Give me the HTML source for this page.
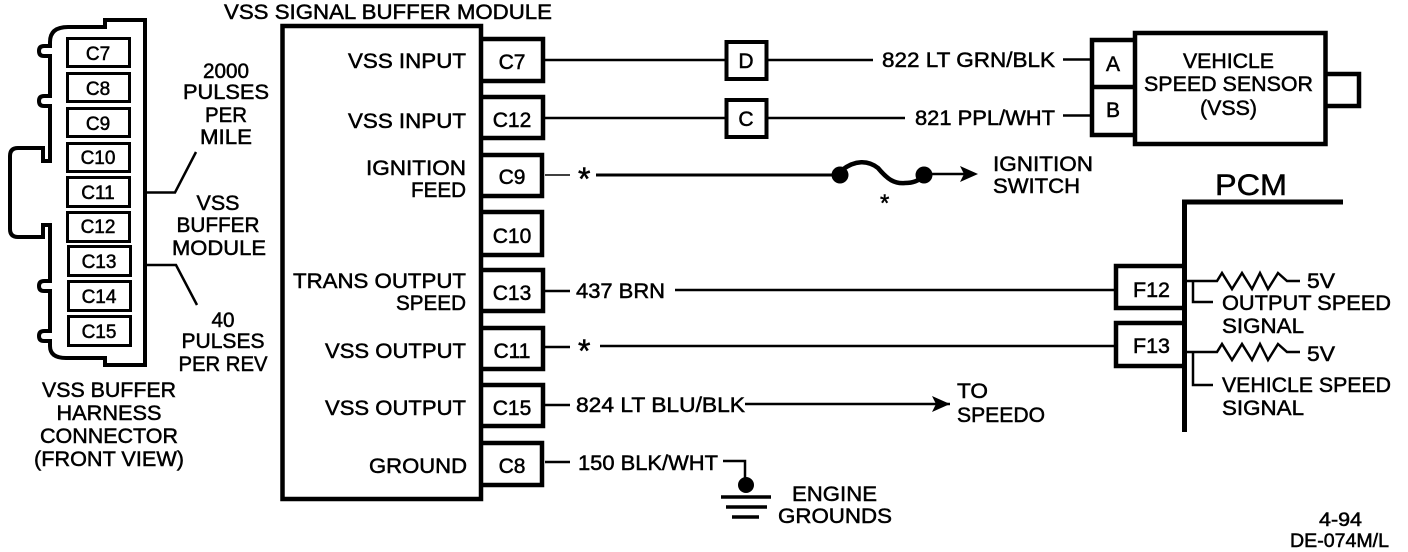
<!DOCTYPE html>
<html><head><meta charset="utf-8"><style>
html,body{margin:0;padding:0;background:#fff}
svg{display:block}
text{font-family:"Liberation Sans",sans-serif;font-size:21px;fill:#000;stroke:#000;stroke-width:.5px}
.s{font-size:19px}
.f{fill:none;stroke:#000}
</style></head><body>
<svg width="1408" height="552" viewBox="0 0 1408 552" xmlns="http://www.w3.org/2000/svg">
<rect width="1408" height="552" fill="#fff"/>
<!-- harness connector -->
<path class="f" stroke-width="4" d="M145 20H105V27H68Q50 27 50 42V46H44Q39 46 39 51Q39 56 44 56H50V96H44Q39 96 39 101Q39 106 44 106H50V161H43V148H18Q10 148 10 156V229Q10 237 18 237H43V225H50V281H44Q39 281 39 286Q39 291 44 291H50V331H44Q39 331 39 336Q39 341 44 341H50V346Q50 358 66 358H105V365H145Z"/>
<g class="f" stroke-width="3" fill="none">
<rect x="67.5" y="38.500" width="62" height="28"/><rect x="67.5" y="73.500" width="62" height="28"/><rect x="67.5" y="108.500" width="62" height="28"/><rect x="67.5" y="143.500" width="62" height="28"/><rect x="67.5" y="177.500" width="62" height="29"/><rect x="67.5" y="212.500" width="62" height="29"/><rect x="68.500" y="246.500" width="62" height="29"/><rect x="68.500" y="281.500" width="62" height="29"/><rect x="68.500" y="316.500" width="62" height="29"/>
</g>
<g text-anchor="middle">
<text class="s" x="98" y="60">C7</text><text class="s" x="98" y="95">C8</text><text class="s" x="98" y="130">C9</text><text class="s" x="98" y="164">C10</text><text class="s" x="98" y="199">C11</text><text class="s" x="98" y="233">C12</text><text class="s" x="99" y="268">C13</text><text class="s" x="99" y="303">C14</text><text class="s" x="99" y="338">C15</text>
</g>
<path class="f" stroke-width="2.500" d="M147 192.500H175L196 152M147 265H176L197 305"/>
<g text-anchor="middle">
<text x="226" y="78" textLength="46" lengthAdjust="spacingAndGlyphs">2000</text>
<text x="226" y="99" textLength="86" lengthAdjust="spacingAndGlyphs">PULSES</text>
<text x="226" y="122" textLength="42" lengthAdjust="spacingAndGlyphs">PER</text>
<text x="226" y="144" textLength="52" lengthAdjust="spacingAndGlyphs">MILE</text>
<text x="218" y="210" textLength="43" lengthAdjust="spacingAndGlyphs">VSS</text>
<text x="218" y="232" textLength="83" lengthAdjust="spacingAndGlyphs">BUFFER</text>
<text x="219" y="255" textLength="94" lengthAdjust="spacingAndGlyphs">MODULE</text>
<text x="223" y="327" textLength="23" lengthAdjust="spacingAndGlyphs">40</text>
<text x="223" y="348" textLength="83" lengthAdjust="spacingAndGlyphs">PULSES</text>
<text x="223" y="371" textLength="89" lengthAdjust="spacingAndGlyphs">PER REV</text>
<text x="109" y="397" textLength="134" lengthAdjust="spacingAndGlyphs">VSS BUFFER</text>
<text x="109" y="420" textLength="105" lengthAdjust="spacingAndGlyphs">HARNESS</text>
<text x="109" y="443" textLength="138" lengthAdjust="spacingAndGlyphs">CONNECTOR</text>
<text x="109" y="466" textLength="150" lengthAdjust="spacingAndGlyphs">(FRONT VIEW)</text>
</g>
<!-- module -->
<text x="224" y="19" textLength="328" lengthAdjust="spacingAndGlyphs">VSS SIGNAL BUFFER MODULE</text>
<rect class="f" x="282.500" y="26" width="198.500" height="473" stroke-width="4.500"/>
<g text-anchor="end">
<text x="466" y="68" textLength="118" lengthAdjust="spacingAndGlyphs">VSS INPUT</text>
<text x="466" y="128" textLength="118" lengthAdjust="spacingAndGlyphs">VSS INPUT</text>
<text x="466" y="175" textLength="100" lengthAdjust="spacingAndGlyphs">IGNITION</text>
<text x="466" y="197" textLength="55" lengthAdjust="spacingAndGlyphs">FEED</text>
<text x="466" y="288" textLength="173" lengthAdjust="spacingAndGlyphs">TRANS OUTPUT</text>
<text x="466" y="310" textLength="70" lengthAdjust="spacingAndGlyphs">SPEED</text>
<text x="466" y="358" textLength="141" lengthAdjust="spacingAndGlyphs">VSS OUTPUT</text>
<text x="466" y="415" textLength="141" lengthAdjust="spacingAndGlyphs">VSS OUTPUT</text>
<text x="467" y="473" textLength="98" lengthAdjust="spacingAndGlyphs">GROUND</text>
</g>
<g class="f" stroke-width="4.500" fill="none">
<path d="M481 39H543V81H481M481 97H543V138H481M481 155H542V196H481M481 212H542V255H481M481 270H543V311H481M481 328H543V369H481M481 385H543V426H481M481 443H542V485H481"/>
</g>
<g text-anchor="middle">
<text x="512" y="69">C7</text><text x="512" y="127">C12</text><text x="512" y="184">C9</text><text x="512" y="243">C10</text><text x="512" y="300">C13</text><text x="512" y="358">C11</text><text x="512" y="415">C15</text><text x="512" y="473">C8</text>
</g>
<!-- wires -->
<g class="f" stroke-width="2.500" fill="none">
<path d="M545 60H725M767 60H873M1063 59.500H1090"/>
<path d="M545 118H725M767 118H905M1063 115.500H1090"/>
<path d="M545 175H570" stroke-width="1.500"/>
<path d="M596 175H835" stroke-width="3"/>
<path d="M924 174H965"/>
<path d="M545 291H570M675 290H1114"/>
<path d="M545 347H570M600 346H1114"/>
<path d="M545 405H570M745 404H950"/>
<path d="M545 462H570M723 461H745V480"/>
</g>
<rect class="f" x="726.500" y="42" width="40" height="37" stroke-width="4"/>
<rect class="f" x="726.500" y="100" width="40" height="37" stroke-width="4"/>
<g text-anchor="middle"><text x="746" y="68">D</text><text x="746" y="126">C</text></g>
<text x="882" y="67" textLength="173" lengthAdjust="spacingAndGlyphs">822 LT GRN/BLK</text>
<text x="915" y="125" textLength="140" lengthAdjust="spacingAndGlyphs">821 PPL/WHT</text>
<text x="578" y="190" style="font-size:32px">*</text>
<text x="578" y="362" style="font-size:32px">*</text>
<text x="880" y="211" style="font-size:24px">*</text>
<!-- fuse -->
<circle cx="840" cy="175" r="8.500"/>
<circle cx="924" cy="175" r="8.500"/>
<path class="f" stroke-width="4.500" d="M842 170C855 160 868 160 878 168C888 180 895 184 905 183C913 183 918 181 924 176"/>
<path d="M978 174L960 166L964 174L960 182Z"/>
<text x="993" y="171" textLength="100" lengthAdjust="spacingAndGlyphs">IGNITION</text>
<text x="993" y="193" textLength="87" lengthAdjust="spacingAndGlyphs">SWITCH</text>
<!-- VSS sensor -->
<path class="f" stroke-width="4.500" d="M1133 40H1092V135H1133M1092 87H1133M1327 74H1359V106H1327"/>
<rect class="f" x="1135" y="33" width="190.500" height="111" stroke-width="4.500"/>
<text x="1106" y="71" textLength="14" lengthAdjust="spacingAndGlyphs">A</text>
<text x="1106" y="117" textLength="14" lengthAdjust="spacingAndGlyphs">B</text>
<text x="1183" y="68" textLength="91" lengthAdjust="spacingAndGlyphs">VEHICLE</text>
<text x="1144" y="91" textLength="169" lengthAdjust="spacingAndGlyphs">SPEED SENSOR</text>
<text x="1200" y="115" textLength="57" lengthAdjust="spacingAndGlyphs">(VSS)</text>
<text x="576" y="298" textLength="89" lengthAdjust="spacingAndGlyphs">437 BRN</text>
<text x="576" y="412" textLength="169" lengthAdjust="spacingAndGlyphs">824 LT BLU/BLK</text>
<path d="M950 404L932 396L936 404L932 412Z"/>
<text x="957" y="398" textLength="31" lengthAdjust="spacingAndGlyphs">TO</text>
<text x="957" y="422" textLength="88" lengthAdjust="spacingAndGlyphs">SPEEDO</text>
<text x="578" y="470" textLength="140" lengthAdjust="spacingAndGlyphs">150 BLK/WHT</text>
<circle cx="746" cy="485" r="8"/>
<path class="f" stroke-width="3.500" d="M721 497H771M726 507H767M732 517H759"/>
<text x="792" y="501" textLength="85" lengthAdjust="spacingAndGlyphs">ENGINE</text>
<text x="778" y="523" textLength="114" lengthAdjust="spacingAndGlyphs">GROUNDS</text>
<!-- PCM -->
<text x="1215" y="195" style="font-size:30px" textLength="72" lengthAdjust="spacingAndGlyphs">PCM</text>
<path class="f" stroke-width="5" d="M1343 202H1184.500V432"/>
<path class="f" stroke-width="4.500" d="M1184 266H1116V308H1184M1184 323H1116V366H1184"/>
<path class="f" stroke-width="2.500" d="M1114 289H1116M1114 345H1116"/>
<text x="1133" y="297" textLength="37" lengthAdjust="spacingAndGlyphs">F12</text>
<text x="1133" y="353" textLength="37" lengthAdjust="spacingAndGlyphs">F13</text>
<path class="f" stroke-width="2.500" d="M1187 281H1217L1222 273L1232 289L1242 273L1252 289L1260 273L1268 289L1278 273L1287 281H1300M1193 281V302H1213"/>
<path class="f" stroke-width="2.500" d="M1187 352H1217L1222 344L1232 360L1242 344L1252 360L1260 344L1268 360L1278 344L1287 352H1300M1193 352V385H1213"/>
<text x="1307" y="288" textLength="28" lengthAdjust="spacingAndGlyphs">5V</text>
<text x="1222" y="310" textLength="169" lengthAdjust="spacingAndGlyphs">OUTPUT SPEED</text>
<text x="1222" y="333" textLength="82" lengthAdjust="spacingAndGlyphs">SIGNAL</text>
<text x="1307" y="361" textLength="28" lengthAdjust="spacingAndGlyphs">5V</text>
<text x="1222" y="392" textLength="169" lengthAdjust="spacingAndGlyphs">VEHICLE SPEED</text>
<text x="1222" y="415" textLength="82" lengthAdjust="spacingAndGlyphs">SIGNAL</text>
<text x="1319" y="526" class="s" textLength="43" lengthAdjust="spacingAndGlyphs">4-94</text>
<text x="1290" y="547" class="s" textLength="99" lengthAdjust="spacingAndGlyphs">DE-074M/L</text>
</svg>
</body></html>
